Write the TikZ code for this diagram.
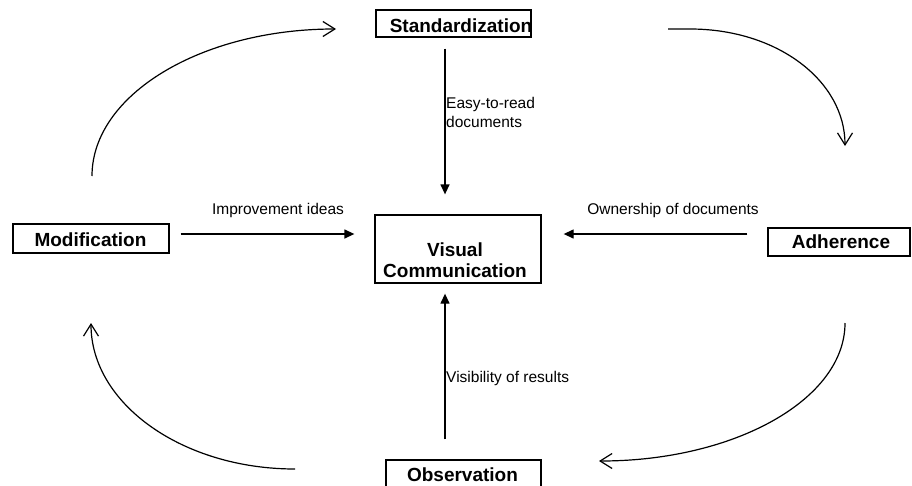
\documentclass[tikz,border=0pt]{standalone}
\usepackage{fontspec}
\setmainfont{Liberation Sans}
\usetikzlibrary{arrows.meta}
\begin{document}
\begin{tikzpicture}[x=1pt,y=-1pt,
  box/.style={draw, line width=1.3pt, inner sep=0pt},
  btext/.style={font=\fontsize{19}{21}\selectfont\bfseries, align=center, inner sep=0pt},
  lab/.style={font=\fontsize{15.5}{19}\selectfont, inner sep=0pt},
  flow/.style={line width=1.3pt, -{Triangle[length=10pt,width=9pt]}},
  cyc/.style={line width=1.2pt, -{Straight Barb[length=12pt,width=15pt]}}]
\useasboundingbox (0,0) rectangle (912,485);
\clip (0,0) rectangle (912,485);
% boxes
\node[box, minimum width=155pt, minimum height=27pt] (std) at (453.5,23.5) {};
\node[btext] (stdt) at (461,26) {Standardization};
\node[box, minimum width=156pt, minimum height=29pt] (mod) at (91,238.5) {};
\node[btext] (modt) at (90.5,240) {Modification};
\node[box, minimum width=142pt, minimum height=28pt] (adh) at (839,242) {};
\node[btext] (adht) at (841,242) {Adherence};
\node[box, minimum width=166pt, minimum height=68pt] (vis) at (458,249) {};
\node[btext] (vist) at (455,260.5) {Visual\\Communication};
\node[box, minimum width=155pt, minimum height=30pt] (obs) at (463.5,475) {};
\node[btext] (obst) at (462.5,475) {Observation};
% straight connectors
\draw[flow] ([xshift=-8.5pt,yshift=-11pt]std.south) -- ([xshift=-13pt,yshift=20pt]vis.north);
\draw[flow] ([xshift=11pt,yshift=4.5pt]mod.east) -- ([xshift=-20pt,yshift=15pt]vis.west);
\draw[flow] ([xshift=-20pt,yshift=8pt]adh.west) -- ([xshift=22pt,yshift=15pt]vis.east);
\draw[flow] ([xshift=-18.5pt,yshift=20pt]obs.north) -- ([xshift=-13pt,yshift=-10pt]vis.south);
% labels
\node[lab, anchor=north west, align=left] (l1) at (446,97) {Easy-to-read\\documents};
\node[lab] (l2) at (278,210) {Improvement ideas};
\node[lab] (l3) at (673,210) {Ownership of documents};
\node[lab, anchor=west] (l4) at (446,378) {Visibility of results};
% cycle arrows
\coordinate (tl1) at (92,176);
\coordinate (tl2) at (336,29);
\coordinate (tr1) at (668,29);
\coordinate (tr2) at (845,146);
\coordinate (br1) at (845,323);
\coordinate (br2) at (599,461);
\coordinate (bl1) at (295,469);
\coordinate (bl2) at (91,323);
\draw[cyc] (tl1) .. controls (92,94.8) and (201.2,29) .. (tl2);
\draw[cyc] (tr1) -- (690,29) .. controls (778,29) and (845,81.4) .. (tr2);
\draw[cyc] (br1) .. controls (845,399.2) and (734.9,461) .. (br2);
\draw[cyc] (bl1) .. controls (182.3,469) and (91,403.6) .. (bl2);
\end{tikzpicture}
\end{document}
